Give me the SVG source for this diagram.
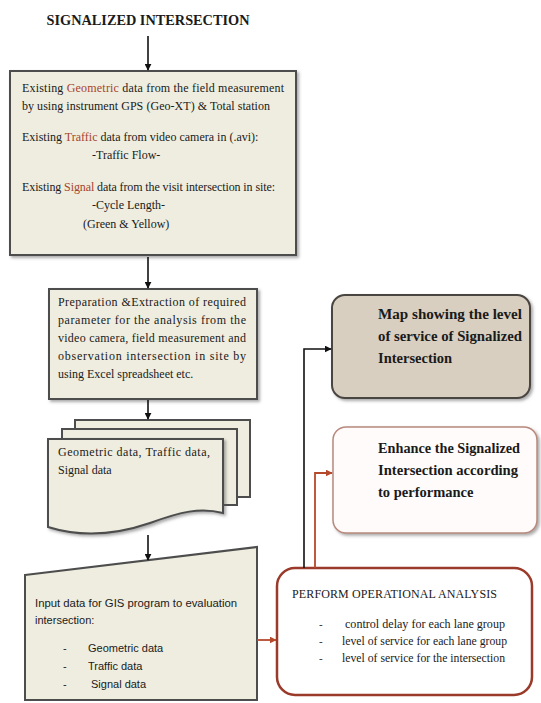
<svg xmlns="http://www.w3.org/2000/svg" width="541" height="703" viewBox="0 0 541 703">
<defs>
  <marker id="ab" viewBox="0 0 10 10" refX="9" refY="5" markerWidth="7" markerHeight="7" orient="auto" markerUnits="userSpaceOnUse">
    <path d="M0,0 L10,5 L0,10 Z" fill="#111"/>
  </marker>
  <marker id="ar" viewBox="0 0 10 10" refX="9" refY="5" markerWidth="7" markerHeight="7" orient="auto" markerUnits="userSpaceOnUse">
    <path d="M0,0 L10,5 L0,10 Z" fill="#b5492c"/>
  </marker>
  <filter id="sh" x="-10%" y="-10%" width="125%" height="125%">
    <feDropShadow dx="2" dy="2" stdDeviation="1.5" flood-color="#555" flood-opacity="0.5"/>
  </filter>
  <style>
    .serif{font-family:"Liberation Serif","Times New Roman",serif;fill:#1a1a1a;}
    .sans{font-family:"Liberation Sans",Arial,sans-serif;fill:#1a1a1a;}
    .t12{font-size:12px;}
    .red{fill:#a8432e;}
    .bold{font-weight:bold;}
    .box{fill:#eeeddf;stroke:#4d4d4d;stroke-width:2;}
    .ln{stroke:#111;stroke-width:1.6;fill:none;}
    .lr{stroke:#b5492c;stroke-width:1.8;fill:none;}
  </style>
</defs>

<g id="title">
  <text class="serif bold" x="148" y="25" font-size="14" text-anchor="middle" textLength="203" lengthAdjust="spacingAndGlyphs">SIGNALIZED INTERSECTION</text>
</g>

<g id="existing-data">
  <rect class="box" x="10" y="71" width="286" height="184" filter="url(#sh)"/>
  <text class="serif t12" x="22" y="92" textLength="262" lengthAdjust="spacing">Existing <tspan class="red">Geometric</tspan> data from the field measurement</text>
  <text class="serif t12" x="22" y="110" textLength="248" lengthAdjust="spacing">by using instrument GPS (Geo-XT) &amp; Total station</text>
  <text class="serif t12" x="22" y="141">Existing <tspan class="red">Traffic</tspan> data from video camera in (.avi):</text>
  <text class="serif t12" x="92" y="159">-Traffic Flow-</text>
  <text class="serif t12" x="22" y="191" textLength="253" lengthAdjust="spacing">Existing <tspan class="red">Signal</tspan> data from the visit intersection in site:</text>
  <text class="serif t12" x="92" y="209">-Cycle Length-</text>
  <text class="serif t12" x="83" y="228">(Green &amp; Yellow)</text>
</g>

<g id="preparation">
  <rect class="box" x="49" y="289" width="208" height="110" filter="url(#sh)"/>
  <text class="serif t12" x="58" y="306" textLength="188" lengthAdjust="spacing">Preparation &amp;Extraction of required</text>
  <text class="serif t12" x="58" y="324" textLength="188" lengthAdjust="spacing">parameter for the analysis from the</text>
  <text class="serif t12" x="58" y="342" textLength="188" lengthAdjust="spacing">video camera, field measurement and</text>
  <text class="serif t12" x="58" y="360" textLength="188" lengthAdjust="spacing">observation intersection in site by</text>
  <text class="serif t12" x="58" y="378">using Excel spreadsheet etc.</text>
</g>

<g id="data-documents">
  <rect class="box" x="75" y="420" width="175" height="77" stroke-width="1.6"/>
  <rect class="box" x="62" y="429" width="175" height="76" stroke-width="1.6"/>
  <path class="box" stroke-width="1.6" d="M48,439 H223 V513 C200,507 180,512 150,523 C115,535 80,537 48,527 Z" filter="url(#sh)"/>
  <text class="serif t12" x="58" y="456" textLength="152" lengthAdjust="spacing">Geometric data, Traffic data,</text>
  <text class="serif t12" x="58" y="474">Signal data</text>
</g>

<g id="input-data">
  <path class="box" d="M25,575 L257,547 V700 H25 Z"/>
  <text class="sans" font-size="11" x="35" y="607" textLength="202" lengthAdjust="spacingAndGlyphs">Input data for GIS program to evaluation</text>
  <text class="sans" font-size="11" x="35" y="624">intersection:</text>
  <text class="sans" font-size="11" x="63" y="652">-</text>
  <text class="sans" font-size="11" x="88" y="652">Geometric data</text>
  <text class="sans" font-size="11" x="63" y="670">-</text>
  <text class="sans" font-size="11" x="88" y="670">Traffic data</text>
  <text class="sans" font-size="11" x="63" y="688">-</text>
  <text class="sans" font-size="11" x="91" y="688">Signal data</text>
</g>

<g id="map-los">
  <rect x="332" y="295" width="198" height="103" rx="13" fill="#d8cfc1" stroke="#4a4440" stroke-width="2" filter="url(#sh)"/>
  <text class="serif bold" font-size="14.5" x="378" y="319" textLength="144" lengthAdjust="spacingAndGlyphs">Map showing the level</text>
  <text class="serif bold" font-size="14.5" x="378" y="341" textLength="144" lengthAdjust="spacingAndGlyphs">of service of Signalized</text>
  <text class="serif bold" font-size="14.5" x="378" y="363">Intersection</text>
</g>

<g id="enhance">
  <rect x="333" y="427" width="204" height="106" rx="13" fill="#fffbfa" stroke="#b8897c" stroke-width="1.5" filter="url(#sh)"/>
  <text class="serif bold" font-size="14.5" x="378" y="453" textLength="142" lengthAdjust="spacingAndGlyphs">Enhance the Signalized</text>
  <text class="serif bold" font-size="14.5" x="378" y="475" textLength="140" lengthAdjust="spacingAndGlyphs">Intersection according</text>
  <text class="serif bold" font-size="14.5" x="378" y="497">to performance</text>
</g>

<g id="operational-analysis">
  <rect x="277" y="568" width="255" height="127" rx="18" fill="#ffffff" stroke="#9a3a2a" stroke-width="2.5"/>
  <text class="serif" font-size="12" x="292" y="598" textLength="205" lengthAdjust="spacing">PERFORM OPERATIONAL ANALYSIS</text>
  <text class="serif" font-size="11" x="319" y="628">-</text>
  <text class="serif" font-size="11.5" x="345" y="628" textLength="160" lengthAdjust="spacingAndGlyphs">control delay for each lane group</text>
  <text class="serif" font-size="11" x="319" y="645">-</text>
  <text class="serif" font-size="11.5" x="342" y="645" textLength="165" lengthAdjust="spacingAndGlyphs">level of service for each lane group</text>
  <text class="serif" font-size="11" x="319" y="662">-</text>
  <text class="serif" font-size="11.5" x="342" y="662" textLength="163" lengthAdjust="spacingAndGlyphs">level of service for the intersection</text>
</g>

<g id="connectors">
  <line class="ln" x1="148" y1="36" x2="148" y2="70" marker-end="url(#ab)"/>
  <line class="ln" x1="148" y1="257" x2="148" y2="288" marker-end="url(#ab)"/>
  <line class="ln" x1="148" y1="400" x2="148" y2="419" marker-end="url(#ab)"/>
  <line class="ln" x1="148" y1="535" x2="148" y2="560" marker-end="url(#ab)"/>
  <line class="lr" x1="257" y1="640" x2="276" y2="640" marker-end="url(#ar)"/>
  <polyline class="ln" points="304,568 304,349 331,349" marker-end="url(#ab)"/>
  <polyline class="lr" points="315,568 315,473 332,473" marker-end="url(#ar)"/>
</g>
</svg>
